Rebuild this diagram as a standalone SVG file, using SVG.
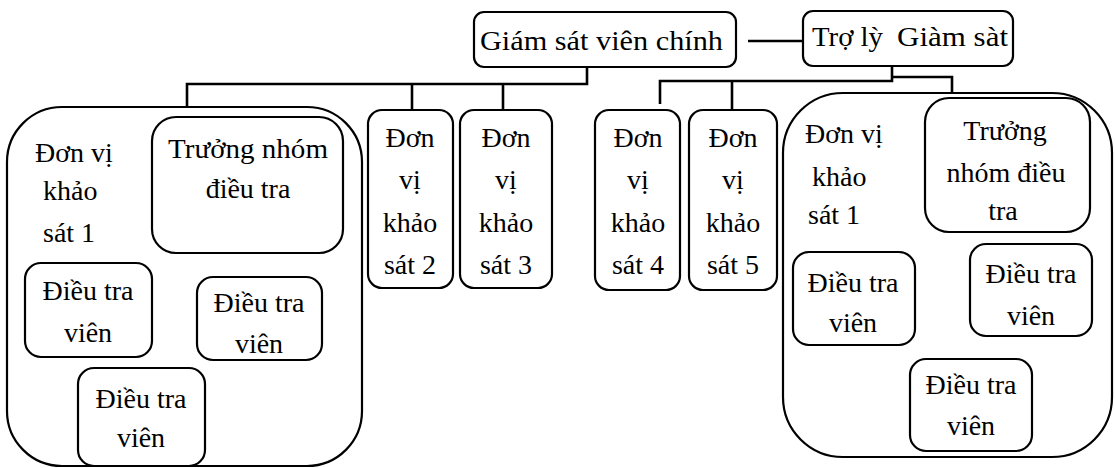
<svg xmlns="http://www.w3.org/2000/svg" width="1115" height="468" viewBox="0 0 1115 468" font-family="Liberation Serif, Times New Roman, DejaVu Serif, serif">
  <style>
    .box { fill: none; stroke: #000; stroke-width: 2.2; }
    .wire { fill: none; stroke: #000; stroke-width: 2.6; }
    text { font-size: 28px; fill: #000; }
    .c { text-anchor: middle; }
  </style>
  <rect width="1115" height="468" fill="#fff"/>

  <!-- connectors -->
  <g id="connectors">
    <path class="wire" d="M587 67 V84 H187 V107"/>
    <path class="wire" d="M412 84 V110"/>
    <path class="wire" d="M503 84 V110"/>
    <path class="wire" d="M748 41 H803"/>
    <path class="wire" d="M892 66 V81 H660 V104"/>
    <path class="wire" d="M732 81 V110"/>
    <path class="wire" d="M892 77 H952 V93"/>
  </g>

  <!-- top level -->
  <g id="chief">
    <rect class="box" x="474" y="12" width="262" height="55" rx="10"/>
    <text x="480" y="50" textLength="243" lengthAdjust="spacingAndGlyphs">Giám sát viên chính</text>
  </g>
  <g id="assistant">
    <rect class="box" x="803" y="11" width="210" height="55" rx="10"/>
    <text x="812" y="46" textLength="71" lengthAdjust="spacingAndGlyphs">Trợ lỳ</text>
    <text x="897" y="46" textLength="111" lengthAdjust="spacingAndGlyphs">Giàm sàt</text>
  </g>

  <!-- survey unit 1 (left group) -->
  <g id="unit1-left">
    <rect class="box" x="7" y="107" width="355" height="359" rx="55"/>
    <text x="35" y="162">Đơn vị</text>
    <text x="43" y="200">khảo</text>
    <text x="43" y="242">sát 1</text>
  </g>
  <g id="leader-left">
    <rect class="box" x="152" y="117" width="191" height="136" rx="24"/>
    <text class="c" x="248" y="158" textLength="160" lengthAdjust="spacingAndGlyphs">Trưởng nhóm</text>
    <text class="c" x="248" y="198">điều tra</text>
  </g>
  <g id="worker-left-1">
    <rect class="box" x="25" y="263" width="127" height="94" rx="16"/>
    <text class="c" x="88" y="300">Điều tra</text>
    <text class="c" x="88" y="342">viên</text>
  </g>
  <g id="worker-left-2">
    <rect class="box" x="197" y="277" width="125" height="83" rx="16"/>
    <text class="c" x="259" y="312">Điều tra</text>
    <text class="c" x="259" y="353">viên</text>
  </g>
  <g id="worker-left-3">
    <rect class="box" x="78" y="368" width="127" height="98" rx="16"/>
    <text class="c" x="141" y="408">Điều tra</text>
    <text class="c" x="141" y="447">viên</text>
  </g>

  <!-- survey units 2 to 5 -->
  <g id="unit2">
    <rect class="box" x="368" y="110" width="85" height="178" rx="14"/>
    <text class="c" x="410" y="147">Đơn</text>
    <text class="c" x="410" y="189">vị</text>
    <text class="c" x="410" y="232">khảo</text>
    <text class="c" x="410" y="274">sát 2</text>
  </g>
  <g id="unit3">
    <rect class="box" x="460" y="110" width="92" height="178" rx="14"/>
    <text class="c" x="506" y="147">Đơn</text>
    <text class="c" x="506" y="189">vị</text>
    <text class="c" x="506" y="232">khảo</text>
    <text class="c" x="506" y="274">sát 3</text>
  </g>
  <g id="unit4">
    <rect class="box" x="595" y="110" width="85" height="180" rx="14"/>
    <text class="c" x="638" y="147">Đơn</text>
    <text class="c" x="638" y="189">vị</text>
    <text class="c" x="638" y="232">khảo</text>
    <text class="c" x="638" y="274">sát 4</text>
  </g>
  <g id="unit5">
    <rect class="box" x="689" y="110" width="88" height="180" rx="14"/>
    <text class="c" x="733" y="147">Đơn</text>
    <text class="c" x="733" y="189">vị</text>
    <text class="c" x="733" y="232">khảo</text>
    <text class="c" x="733" y="274">sát 5</text>
  </g>

  <!-- survey unit 1 (right group) -->
  <g id="unit1-right">
    <rect class="box" x="783" y="93" width="329" height="364" rx="60"/>
    <text x="805" y="143">Đơn vị</text>
    <text x="812" y="186">khảo</text>
    <text x="808" y="224">sát 1</text>
  </g>
  <g id="leader-right">
    <rect class="box" x="925" y="98" width="165" height="134" rx="24"/>
    <text class="c" x="1005" y="140">Trưởng</text>
    <text class="c" x="1006" y="182">nhóm điều</text>
    <text class="c" x="1003" y="220">tra</text>
  </g>
  <g id="worker-right-1">
    <rect class="box" x="793" y="252" width="122" height="93" rx="16"/>
    <text class="c" x="853" y="292">Điều tra</text>
    <text class="c" x="853" y="332">viên</text>
  </g>
  <g id="worker-right-2">
    <rect class="box" x="970" y="244" width="122" height="92" rx="16"/>
    <text class="c" x="1031" y="283">Điều tra</text>
    <text class="c" x="1031" y="325">viên</text>
  </g>
  <g id="worker-right-3">
    <rect class="box" x="910" y="359" width="122" height="92" rx="16"/>
    <text class="c" x="971" y="394">Điều tra</text>
    <text class="c" x="971" y="435">viên</text>
  </g>
</svg>
